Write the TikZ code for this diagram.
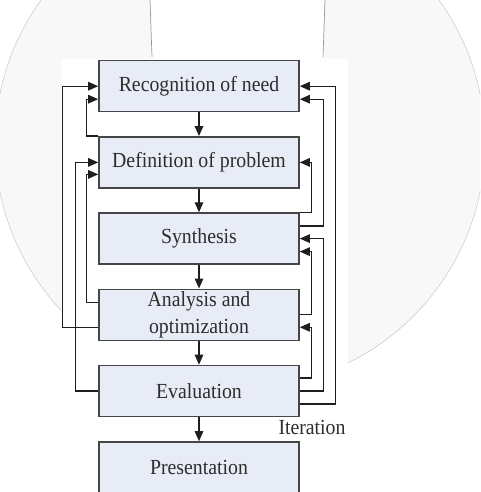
\documentclass[tikz,border=0pt]{standalone}
\usepackage{fontspec}
\setmainfont{Liberation Serif}[FakeStretch=0.92]
\usetikzlibrary{arrows.meta,calc}
\definecolor{boxfill}{RGB}{232,236,246}
\definecolor{boxdraw}{RGB}{70,70,70}
\definecolor{bggray}{RGB}{248,248,249}
\definecolor{txt}{RGB}{45,45,45}
\definecolor{lnk}{RGB}{30,30,30}
\tikzset{
  stage/.style={draw=boxdraw, fill=boxfill, line width=1.6pt, minimum width=200pt, minimum height=51pt,
    inner sep=0pt, align=center, text=txt, font=\fontsize{21.5}{26.5}\selectfont},
  arr/.style={draw=lnk, line width=1.3pt, -{Triangle[length=10pt,width=8.5pt]}},
  fb/.style={draw=lnk, line width=1.3pt, -{Triangle[length=10pt,width=8.5pt]}}
}
\begin{document}
\begin{tikzpicture}[x=1pt,y=-1pt]
\useasboundingbox (0,0) rectangle (480,492);
\begin{scope}
\clip (0,0) rectangle (480,492);
\fill[white] (0,0) rectangle (480,492);
\fill[bggray] (240,143) circle (245);
\draw[black!22, line width=0.5pt] (240,143) circle (245);
\fill[white] (151,0) rectangle (324,60);
\draw[black!40, line width=0.7pt] (150,0) -- (152,57);
\draw[black!40, line width=0.7pt] (325,0) -- (323,57);
\fill[white] (61,59) rectangle (348,492);

\node[stage] (rec) at (199,86.2) {Recognition of need};
\node[stage] (def) at (199,162.4) {Definition of problem};
\node[stage] (syn) at (199,238.6) {Synthesis};
\node[stage] (ana) at (199,314.8) {Analysis and\\optimization};
\node[stage] (eva) at (199,391.0) {Evaluation};
\node[stage] (pre) at (199,467.5) {Presentation};
\node[anchor=base, text=txt, font=\fontsize{21.5}{26.5}\selectfont, inner sep=0pt] (iter) at (312,434.5) {Iteration};

% main flow
\draw[arr] (rec) -- (def);
\draw[arr] (def) -- (syn);
\draw[arr] (syn) -- (ana);
\draw[arr] (ana) -- (eva);
\draw[arr] (eva) -- (pre);

% left feedback
\draw[fb] ($(ana.west)+(0,13)$) -- ++(-36,0) |- (rec.west);
\draw[fb] (def.north west) -- ++(-12,0) |- ($(rec.west)+(0,13)$);
\draw[fb] (eva.west) -- ++(-23,0) |- (def.west);
\draw[fb] ($(ana.west)+(0,-12.5)$) -- ++(-12,0) |- ($(def.west)+(0,12)$);

% right feedback
\draw[fb] ($(eva.east)+(0,13)$) -- ++(36,0) |- (rec.east);
\draw[fb] ($(syn.east)+(0,-12.5)$) -- ++(23.7,0) |- ($(rec.east)+(0,13)$);
\draw[fb] (syn.north east) -- ++(12,0) |- (def.east);
\draw[fb] (eva.east) -- ++(23.7,0) |- (syn.east);
\draw[fb] (ana.east) -- ++(12,0) |- ($(syn.east)+(0,13)$);
\draw[fb] ($(eva.east)+(0,-13)$) -- ++(12,0) |- ($(ana.east)+(0,12.5)$);
\end{scope}
\end{tikzpicture}
\end{document}
